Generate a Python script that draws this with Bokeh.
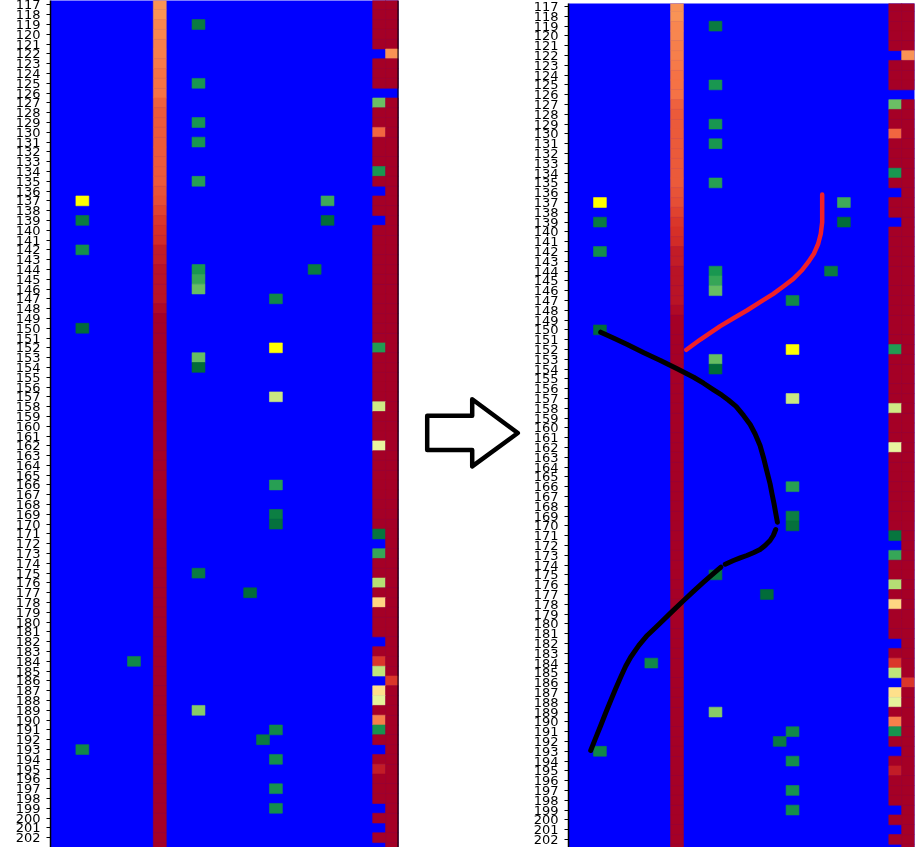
import numpy as np
from bokeh.embed import file_html
from bokeh.resources import INLINE
from bokeh.plotting import figure
from bokeh.layouts import row
from bokeh.models import ColumnDataSource, LinearColorMapper, Range1d, FixedTicker, Span
from bokeh.transform import transform

RDYLGN_R = ["#006837", "#1a9850", "#66bd63", "#a6d96a", "#d9ef8b", "#ffffbf",
            "#fee08b", "#fdae61", "#f46d43", "#d73027", "#a50026"]
ROWS = list(range(117, 204))
TICK_ROWS = list(range(117, 203))
N_COLS = 27

# column 8: gradient band, rows 117..149, then full red
BAND_VALUES = [.74, .74, .76, .76, .77, .77, .78, .79, .79, .79, .82, .83, .83, .83, .83, .83,
               .83, .83, .83, .84, .85, .87, .89, .90, .91, .94, .94, .96, .96, .96, .96, .98, 1.0]

COL2 = {139: .04, 142: .08, 150: .01, 193: .07}
COL6 = {184: .07}
COL11 = {119: .04, 125: .10, 129: .10, 131: .10, 135: .12, 144: .10, 145: .14, 146: .20,
         153: .20, 154: .01, 175: .04, 189: .25}
COL15 = {177: .01}
COL16 = {192: .04}
COL17 = {147: .07, 157: .37, 166: .12, 169: .05, 170: .02, 191: .07, 194: .08, 197: .09, 199: .08}
COL20 = {144: .04}
COL21 = {137: .15, 139: .01}

# columns 25 and 26: full red except the entries below; blue rows hold no value
COL25 = {127: .21, 130: .81, 134: .10, 152: .11, 158: .38, 162: .44, 171: .03, 173: .14,
         176: .33, 178: .62, 184: .89, 185: .35, 187: .60, 188: .43, 190: .77, 191: .09, 195: .94}
COL25_EMPTY = [122, 126, 136, 139, 172, 182, 186, 193, 199, 201, 203]
COL26 = {122: .74, 186: .89}
COL26_EMPTY = [126]

YELLOW_COLS = [2, 17]
YELLOW_ROWS = [137, 152]

RED_COL = [19.81, 19.81, 19.70, 19.50, 19.16, 18.72, 18.21, 17.56, 16.78, 16.00, 14.97, 13.94,
           12.90, 11.87, 11.09, 10.32, 9.23]
RED_ROW = [136.18, 139.01, 140.19, 141.21, 142.23, 143.09, 143.94, 144.79, 145.57, 146.32, 147.17,
           148.02, 148.81, 149.62, 150.30, 150.98, 152.03]
BLACK1_COL = [2.56, 3.59, 4.63, 5.92, 7.21, 8.51, 9.80, 10.57, 11.35, 12.0, 12.5, 13.1, 13.68,
              14.20, 14.58, 14.97, 15.23, 15.49, 15.75, 15.90, 16.06, 16.19, 16.32]
BLACK1_ROW = [150.23, 150.85, 151.49, 152.34, 153.12, 153.97, 154.83, 155.44, 156.12, 156.66, 157.15,
              157.8, 158.73, 159.65, 160.60, 161.80, 162.99, 164.35, 165.70, 166.72, 167.74, 168.70, 169.62]
BLACK2_COL = [16.19, 16.00, 15.75, 15.36, 14.97, 14.45, 13.94, 13.42, 12.90, 12.26]
BLACK2_ROW = [170.37, 170.98, 171.49, 172.0, 172.41, 172.74, 173.02, 173.26, 173.53, 173.91]
BLACK3_COL = [11.92, 11.22, 10.57, 9.80, 9.02, 7.99, 7.08, 6.18, 5.53, 4.89, 4.50, 4.11, 3.72,
              3.34, 2.95, 2.56, 2.17, 1.78]
BLACK3_ROW = [174.21, 174.99, 175.74, 176.66, 177.61, 178.90, 180.06, 181.18, 182.20, 183.40, 184.32,
              185.44, 186.62, 187.82, 189.07, 190.37, 191.63, 192.92]

ARROW_X = [426.7, 471.7, 471.7, 517.3, 471.7, 471.7, 426.7]
ARROW_Y = [415, 415, 398.3, 432.7, 466.7, 450, 450]

# palette
rgb = np.array([[int(c[i:i + 2], 16) for i in (1, 3, 5)] for c in RDYLGN_R], float)
t = np.linspace(0, 10, 256)
pal = ["#%02x%02x%02x" % tuple(int(round(np.interp(v, range(11), rgb[:, k]))) for k in range(3)) for v in t]
mapper = LinearColorMapper(palette=pal, low=0, high=1)

# cell table
xs, ys, vs = [], [], []
def put(col, r, v):
    xs.append(col + .5); ys.append(r); vs.append(v)

for r in ROWS:
    put(8, r, BAND_VALUES[r - 117] if r - 117 < len(BAND_VALUES) else 1.0)
    if r not in COL25_EMPTY:
        put(25, r, COL25.get(r, 1.0))
    if r not in COL26_EMPTY:
        put(26, r, COL26.get(r, 1.0))
for col, d in ((2, COL2), (6, COL6), (11, COL11), (15, COL15), (16, COL16),
               (17, COL17), (20, COL20), (21, COL21)):
    for r, v in d.items():
        put(col, r, v)


def panel(width, height, border_left, border_right, x_start, y_top, y_bottom):
    p = figure(width=width, height=height, output_backend="svg", toolbar_location=None,
               x_range=Range1d(x_start, N_COLS), y_range=Range1d(y_bottom, y_top),
               x_axis_location=None, min_border_left=border_left, min_border_right=border_right,
               min_border_top=8, min_border_bottom=8, background_fill_color="#0000ff")
    p.outline_line_color = None
    p.grid.visible = False
    src = ColumnDataSource(dict(x=list(xs), y=list(ys), v=list(vs)))
    p.rect("x", "y", 1, 1, source=src, fill_color=transform("v", mapper),
           line_color=transform("v", mapper), line_width=0.6)
    p.rect([c + .5 for c in YELLOW_COLS], YELLOW_ROWS, 1, 1, fill_color="#ffff00", line_color="#ffff00", line_width=0.6)
    ax = p.yaxis[0]
    ax.ticker = FixedTicker(ticks=TICK_ROWS)
    ax.major_label_text_font = "DejaVu Sans"
    ax.major_label_text_font_size = "13px"
    ax.major_label_text_color = "black"
    ax.major_label_standoff = 6
    ax.major_tick_in = 0
    ax.major_tick_out = 4
    ax.major_tick_line_color = "black"
    ax.axis_line_color = "black"
    ax.axis_line_width = 1.5
    return p


# frame at 0..847 on the page (8px of border above and below is pushed off screen)
left = panel(412, 863, 50, 14, 0.03, 116.55, 203.0)
left.add_layout(Span(location=N_COLS, dimension="height", line_color="black", line_width=2))
left.styles = {"position": "relative", "top": "-8px"}

mid = figure(width=118, height=847, output_backend="svg", toolbar_location=None,
             x_range=Range1d(412, 530), y_range=Range1d(847, 0),
             x_axis_location=None, y_axis_location=None,
             min_border=0, outline_line_color=None)
mid.grid.visible = False
mid.patch(ARROW_X, ARROW_Y, fill_color="white", line_color="black", line_width=4.5, line_join="round")

# frame at 3..847 on the page
right = panel(392, 860, 36, 8, 0.05, 116.69, 202.82)
right.styles = {"position": "relative", "top": "-5px"}
for cx, cy in ((BLACK1_COL, BLACK1_ROW), (BLACK2_COL, BLACK2_ROW), (BLACK3_COL, BLACK3_ROW)):
    right.line(cx, cy, line_color="black", line_width=5, line_cap="round", line_join="round")
right.line(RED_COL, RED_ROW, line_color="#f02028", line_width=4.5, line_cap="round", line_join="round")

layout = row(left, mid, right, spacing=0, styles={"position": "fixed", "left": "0px", "top": "0px"})
open("out.html", "w").write(file_html(layout, INLINE))
